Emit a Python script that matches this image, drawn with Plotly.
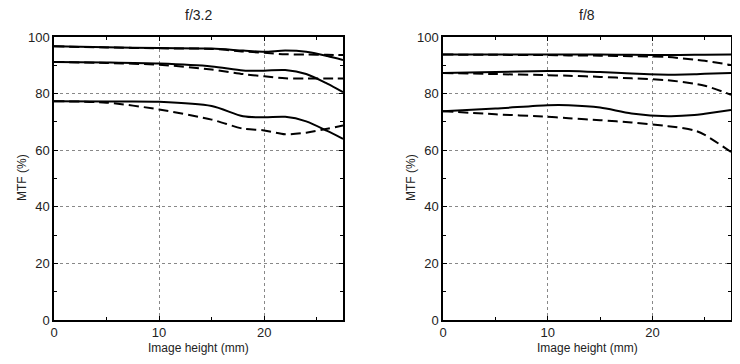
import plotly.graph_objects as go

# Left panel f/3.2
x_l = [0, 5, 10, 15, 18, 20, 22, 24, 26, 27.5]
l_top_solid = [96.7, 96.4, 96.1, 95.9, 95.2, 94.8, 95.2, 94.8, 93.3, 91.9]
l_top_dash = [96.7, 96.3, 96.0, 95.8, 94.9, 94.4, 93.9, 93.8, 93.7, 93.6]
l_mid_solid = [91.2, 91.0, 90.6, 89.6, 88.2, 88.1, 88.3, 86.9, 83.5, 80.5]
l_mid_dash = [91.2, 90.8, 90.2, 88.5, 86.9, 86.1, 85.4, 85.3, 85.3, 85.3]
l_bot_solid = [77.3, 77.2, 77.1, 75.6, 72.0, 71.6, 71.8, 70.2, 66.8, 64.0]
l_bot_dash = [77.3, 76.8, 74.4, 70.8, 67.6, 67.0, 65.6, 66.2, 67.6, 68.7]

# Right panel f/8
x_r = [0, 5, 10, 12, 15, 18, 21.5, 24, 25, 27.5]
r_top_solid = [93.8, 93.8, 93.8, 93.8, 93.8, 93.7, 93.6, 93.7, 93.7, 93.8]
r_top_dash = [93.8, 93.7, 93.6, 93.5, 93.4, 93.2, 92.9, 92.0, 91.6, 90.1]
r_mid_solid = [87.3, 87.6, 88.0, 88.0, 87.6, 87.1, 86.7, 86.8, 87.0, 87.3]
r_mid_dash = [87.3, 86.9, 86.5, 86.3, 85.9, 85.4, 84.7, 83.5, 82.8, 79.6]
r_bot_solid = [73.8, 74.7, 75.9, 75.9, 75.1, 73.0, 72.0, 72.4, 72.9, 74.2]
r_bot_dash = [73.8, 72.7, 71.8, 71.3, 70.6, 69.8, 68.5, 67.0, 65.4, 59.4]

titles = ["f/3.2", "f/8"]
x_title = "Image height (mm)"
y_title = "MTF (%)"
x_ticks = [0, 10, 20]
y_ticks = [0, 20, 40, 60, 80, 100]

W, H, OFF = 724, 348, 8

def px(v):
    return (v - OFF) / W

def py(v):
    return 1 - (v - OFF) / H

fig = go.Figure()

def add(x, y, dash, ax):
    fig.add_trace(go.Scatter(x=x, y=y, mode="lines",
                             line=dict(color="black", width=2, dash=dash, shape="spline", smoothing=0.8),
                             xaxis="x" + ax, yaxis="y" + ax, showlegend=False, hoverinfo="skip"))

DASH = "10px,5px"
for y, d in [(l_top_solid, "solid"), (l_top_dash, DASH), (l_mid_solid, "solid"),
             (l_mid_dash, DASH), (l_bot_solid, "solid"), (l_bot_dash, DASH)]:
    add(x_l, y, d, "")
for y, d in [(r_top_solid, "solid"), (r_top_dash, DASH), (r_mid_solid, "solid"),
             (r_mid_dash, DASH), (r_bot_solid, "solid"), (r_bot_dash, DASH)]:
    add(x_r, y, d, "2")

font = dict(family="Liberation Sans, Arial, sans-serif", color="#222", size=13)

xcommon = dict(range=[0, 27.5], tickvals=x_ticks, showline=True, linecolor="black", linewidth=1.5,
               mirror="ticks", ticks="inside", ticklen=4, tickcolor="black", automargin=False,
               showgrid=True, gridcolor="#888", griddash="dot", gridwidth=1,
               minor=dict(tickvals=[5, 15, 25], ticks="inside", ticklen=3, tickcolor="black", showgrid=False),
               zeroline=False, tickfont=dict(size=13))
ycommon = dict(range=[0, 100], tickvals=y_ticks, showline=True, linecolor="black", linewidth=1.5,
               mirror="ticks", ticks="inside", ticklen=4, tickcolor="black", automargin=False,
               showgrid=True, gridcolor="#888", griddash="dot", gridwidth=1,
               minor=dict(tickvals=[10, 30, 50, 70, 90], ticks="inside", ticklen=3, tickcolor="black", showgrid=False),
               zeroline=False, tickfont=dict(size=13))

annotations = []
for cx, ylab_x, t in [((54 + 343) / 2, 22, titles[0]), ((443 + 731) / 2, 411, titles[1])]:
    annotations.append(dict(text=t, x=px(cx), y=py(15), xref="paper", yref="paper",
                            showarrow=False, font=dict(size=14), xanchor="center", yanchor="middle"))
    annotations.append(dict(text=x_title, x=px(cx), y=0, xref="paper", yref="paper",
                            showarrow=False, font=dict(size=12), xanchor="center", yanchor="bottom",
                            borderpad=0))
    annotations.append(dict(text=y_title, x=px(ylab_x), y=py(178), xref="paper", yref="paper",
                            showarrow=False, font=dict(size=12), xanchor="center", yanchor="middle",
                            textangle=-90))

fig.update_layout(
    width=W, height=H, margin=dict(l=0, r=0, t=0, b=0, autoexpand=False),
    paper_bgcolor="white", plot_bgcolor="white", font=font,
    xaxis=dict(domain=[px(54), px(343)], anchor="y", **xcommon),
    yaxis=dict(domain=[py(320), py(37)], anchor="x", **ycommon),
    xaxis2=dict(domain=[px(443), px(731)], anchor="y2", **xcommon),
    yaxis2=dict(domain=[py(320), py(37)], anchor="x2", **ycommon),
    annotations=annotations,
)

fig.write_html("out.html")
